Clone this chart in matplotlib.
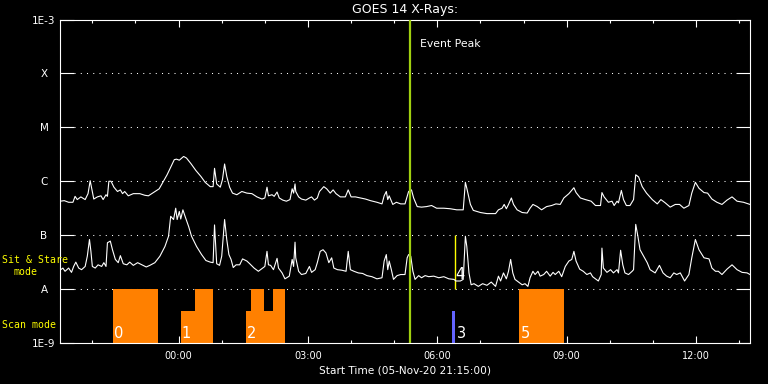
import numpy as np
import matplotlib
matplotlib.use("Agg")
import matplotlib.pyplot as plt
from matplotlib.ticker import FixedLocator, NullLocator

# GOES 14 X-ray flux, minutes after start (21:15) and log10 flux (W/m^2)
# long channel (upper curve)
long_min = [0, 6, 12, 18, 21, 24, 29, 35, 39, 42,
            45, 47, 52, 57, 60, 64, 66, 68, 71, 75,
            80, 84, 87, 90, 95, 102, 111, 118, 123, 130,
            138, 144, 149, 154, 159, 162, 166, 172, 176, 182,
            189, 196, 202, 209, 213, 215, 218, 223, 226, 229,
            232, 236, 240, 246, 253, 260, 267, 274, 281, 285,
            288, 290, 295, 298, 302, 305, 310, 315, 320, 323,
            325, 327, 328, 332, 336, 342, 347, 350, 354, 358,
            361, 367, 371, 376, 380, 384, 390, 397, 401, 405,
            411, 418, 425, 432, 441, 448, 451, 454, 456, 458,
            463, 468, 474, 480, 485, 489, 492, 497, 503, 510,
            517, 524, 534, 543, 552, 561, 564, 566, 571, 575,
            585, 594, 606, 610, 615, 618, 621, 624, 628, 631,
            636, 643, 650, 654, 658, 664, 670, 677, 684, 690,
            696, 701, 708, 715, 718, 724, 731, 739, 745, 752,
            754, 757, 763, 768, 771, 775, 777, 781, 784, 788,
            793, 798, 801, 805, 810, 816, 824, 831, 836, 842,
            849, 856, 862, 868, 875, 879, 884, 889, 896, 901,
            907, 914, 921, 928, 935, 942, 951, 960]
long_log = [-6.37, -6.36, -6.39, -6.39, -6.28, -6.34, -6.29, -6.34, -6.23, -5.99,
            -6.19, -6.33, -6.29, -6.27, -6.34, -6.25, -6.28, -6.00, -6.00, -6.11,
            -6.19, -6.16, -6.23, -6.19, -6.27, -6.23, -6.23, -6.26, -6.27, -6.21,
            -6.14, -6.00, -5.88, -5.74, -5.60, -5.59, -5.61, -5.54, -5.57, -5.67,
            -5.80, -5.91, -6.02, -6.10, -6.10, -5.76, -6.05, -6.11, -5.97, -5.68,
            -5.91, -6.11, -6.22, -6.25, -6.19, -6.22, -6.23, -6.29, -6.33, -6.31,
            -6.11, -6.27, -6.25, -6.28, -6.20, -6.31, -6.35, -6.37, -6.34, -6.14,
            -6.22, -6.05, -6.19, -6.29, -6.33, -6.35, -6.31, -6.29, -6.35, -6.31,
            -6.19, -6.10, -6.14, -6.22, -6.16, -6.23, -6.29, -6.29, -6.16, -6.29,
            -6.29, -6.31, -6.33, -6.36, -6.39, -6.42, -6.27, -6.19, -6.34, -6.27,
            -6.43, -6.39, -6.42, -6.42, -6.19, -6.16, -6.31, -6.47, -6.48, -6.47,
            -6.45, -6.50, -6.50, -6.51, -6.53, -6.53, -6.02, -6.13, -6.43, -6.54,
            -6.58, -6.60, -6.60, -6.53, -6.50, -6.43, -6.51, -6.43, -6.31, -6.43,
            -6.53, -6.58, -6.59, -6.50, -6.43, -6.47, -6.53, -6.47, -6.45, -6.42,
            -6.43, -6.31, -6.23, -6.12, -6.21, -6.31, -6.34, -6.37, -6.45, -6.45,
            -6.21, -6.29, -6.39, -6.37, -6.45, -6.37, -6.40, -6.17, -6.34, -6.45,
            -6.45, -6.34, -5.88, -5.92, -6.10, -6.22, -6.34, -6.42, -6.34, -6.40,
            -6.48, -6.43, -6.43, -6.50, -6.45, -6.22, -6.02, -6.13, -6.21, -6.22,
            -6.33, -6.39, -6.43, -6.35, -6.29, -6.37, -6.39, -6.43]

# short channel (lower curve)
short_min = [0, 4, 7, 12, 16, 19, 22, 26, 30, 35,
             38, 41, 43, 45, 49, 53, 58, 61, 64, 66,
             70, 73, 77, 81, 84, 88, 93, 97, 102, 108,
             114, 120, 125, 132, 139, 146, 151, 154, 158, 161,
             163, 166, 168, 171, 174, 179, 183, 190, 197, 203,
             209, 213, 215, 218, 222, 225, 229, 232, 235, 238,
             241, 245, 250, 254, 260, 264, 270, 276, 282, 285,
             288, 290, 293, 297, 302, 304, 309, 313, 319, 323,
             325, 327, 328, 332, 336, 342, 347, 350, 355, 358,
             362, 366, 370, 374, 378, 381, 386, 392, 398, 401,
             404, 409, 415, 421, 427, 434, 441, 448, 451, 454,
             456, 458, 461, 464, 469, 474, 480, 483, 485, 488,
             491, 494, 499, 503, 508, 513, 520, 527, 534, 541,
             548, 551, 557, 561, 564, 566, 569, 572, 576, 582,
             588, 594, 600, 606, 610, 613, 617, 621, 624, 627,
             630, 633, 638, 643, 647, 651, 654, 658, 661, 665,
             668, 673, 677, 682, 686, 689, 694, 698, 703, 708,
             712, 715, 718, 723, 728, 733, 738, 741, 746, 749,
             753, 754, 756, 761, 766, 770, 775, 777, 780, 783,
             786, 791, 796, 798, 801, 804, 807, 812, 817, 821,
             828, 834, 839, 844, 849, 854, 858, 863, 869, 875,
             879, 884, 889, 896, 903, 907, 912, 916, 921, 928,
             935, 942, 949, 956, 960]
short_log = [-7.65, -7.61, -7.67, -7.61, -7.69, -7.58, -7.50, -7.61, -7.64, -7.58,
             -7.39, -7.08, -7.30, -7.58, -7.61, -7.55, -7.58, -7.51, -7.58, -7.14,
             -7.11, -7.27, -7.45, -7.51, -7.38, -7.53, -7.55, -7.50, -7.56, -7.51,
             -7.55, -7.59, -7.56, -7.51, -7.39, -7.21, -7.02, -6.65, -6.71, -6.50,
             -6.71, -6.56, -6.70, -6.53, -6.65, -6.84, -7.02, -7.21, -7.36, -7.47,
             -7.50, -7.51, -6.81, -7.53, -7.56, -7.39, -6.71, -7.08, -7.36, -7.45,
             -7.60, -7.55, -7.55, -7.44, -7.48, -7.53, -7.61, -7.67, -7.61, -7.58,
             -7.30, -7.55, -7.56, -7.64, -7.43, -7.61, -7.70, -7.81, -7.76, -7.45,
             -7.58, -7.13, -7.42, -7.67, -7.73, -7.71, -7.58, -7.69, -7.64, -7.51,
             -7.30, -7.27, -7.33, -7.51, -7.42, -7.61, -7.64, -7.65, -7.67, -7.30,
             -7.64, -7.67, -7.70, -7.71, -7.75, -7.77, -7.81, -7.79, -7.48, -7.36,
             -7.64, -7.48, -7.64, -7.82, -7.75, -7.73, -7.73, -7.42, -7.36, -7.39,
             -7.67, -7.82, -7.75, -7.79, -7.75, -7.77, -7.76, -7.79, -7.77, -7.81,
             -7.82, -7.85, -7.85, -7.82, -7.02, -7.21, -7.70, -7.92, -7.90, -7.95,
             -7.90, -7.93, -7.87, -7.95, -7.76, -7.85, -7.70, -7.81, -7.67, -7.45,
             -7.70, -7.82, -7.87, -7.92, -7.90, -7.95, -7.79, -7.67, -7.73, -7.67,
             -7.76, -7.73, -7.67, -7.76, -7.69, -7.73, -7.67, -7.77, -7.58, -7.48,
             -7.45, -7.30, -7.48, -7.63, -7.67, -7.73, -7.70, -7.77, -7.82, -7.85,
             -7.73, -7.24, -7.61, -7.69, -7.64, -7.70, -7.64, -7.70, -7.28, -7.55,
             -7.70, -7.73, -7.67, -7.64, -6.80, -7.02, -7.27, -7.39, -7.51, -7.64,
             -7.70, -7.56, -7.70, -7.76, -7.79, -7.70, -7.73, -7.70, -7.85, -7.73,
             -7.42, -7.08, -7.27, -7.42, -7.44, -7.61, -7.67, -7.67, -7.73, -7.63,
             -7.55, -7.64, -7.69, -7.70, -7.73]

# scan mode blocks (minutes after start), top flux of each block
scan_start = [74, 168, 188, 259, 266, 284, 297, 639]
scan_end = [136, 188, 213, 266, 284, 297, 313, 701]
scan_top = [1e-8, 4e-9, 1e-8, 4e-9, 1e-8, 4e-9, 1e-8, 1e-8]
scan_label_min = [74, 168, 259, 639]
scan_label_txt = ["0", "1", "2", "5"]

# observation 3 (blue) and sit & stare 4 (yellow)
obs3_min = [546, 549.5]
obs3_top = 4e-9
obs4_min = 549
event_peak_min = 487

decades = [1e-9, 1e-8, 1e-7, 1e-6, 1e-5, 1e-4, 1e-3]
decade_labels = ["1E-9", "A", "B", "C", "M", "X", "1E-3"]
hour_ticks = [0, 3, 6, 9, 12]
hour_labels = ["00:00", "03:00", "06:00", "09:00", "12:00"]

start_offset = -2.75  # 21:15 relative to 00:00, hours


def to_hours(m):
    return np.asarray(m, dtype=float) / 60.0 + start_offset


plt.rcParams['font.family'] = ['DejaVu Sans']

fig = plt.figure(figsize=(7.68, 3.84), dpi=100, facecolor='black')
ax = fig.add_axes([60 / 768, 41 / 384, 690 / 768, 323.5 / 384])
ax.set_facecolor('black')
ax.set_yscale('log')
ax.set_ylim(1e-9, 1e-3)
ax.set_xlim(start_offset, start_offset + 16)

# dotted class levels
ax.hlines(decades[1:-1], 14 / 690, 1 - 14 / 690, transform=ax.get_yaxis_transform(),
          colors='white', linewidth=0.75, linestyles=(0, (1, 5)), zorder=1)

# scan mode blocks
s0 = to_hours(scan_start)
s1 = to_hours(scan_end)
ax.bar(s0, np.array(scan_top) - 1e-9, width=s1 - s0, bottom=1e-9, align='edge',
       color='#ff8000', linewidth=0, zorder=2)
for m, t in zip(scan_label_min, scan_label_txt):
    ax.annotate(t, (to_hours(m), 1.26e-9), xytext=(0.8, 0), textcoords='offset points',
                color='white', fontsize=10.5, va='baseline', ha='left', zorder=5)

# observation 3
b0, b1 = to_hours(obs3_min)
ax.bar(b0, obs3_top - 1e-9, width=b1 - b0, bottom=1e-9, align='edge',
       color='#6464ff', linewidth=0, zorder=2)
ax.annotate("3", (b1, 1.26e-9), xytext=(1.5, 0), textcoords='offset points',
            color='white', fontsize=10.5, va='baseline', ha='left', zorder=5)

# sit & stare 4
x4 = to_hours(obs4_min)
ax.vlines(x4, 1e-8, 1e-7, colors='#ffff00', linewidth=1, zorder=3)
ax.annotate("4", (x4, 10 ** -7.82), xytext=(0.7, 0), textcoords='offset points',
            color='white', fontsize=10.5, va='baseline', ha='left', zorder=5)

# flux curves
ax.plot(to_hours(long_min), 10 ** np.array(long_log), color='white', linewidth=0.8, zorder=4)
ax.plot(to_hours(short_min), 10 ** np.array(short_log), color='white', linewidth=0.8, zorder=4)

# event peak
xp = to_hours(event_peak_min)
ax.axvline(xp, color='#a0d010', linewidth=1.6, zorder=6)
ax.annotate("Event Peak", (xp, 10 ** -3.51), xytext=(7.2, 0), textcoords='offset points',
            color='white', fontsize=7.8, va='baseline', ha='left')

# axes styling
for sp in ax.spines.values():
    sp.set_color('white')
    sp.set_linewidth(0.8)

ax.yaxis.set_major_locator(FixedLocator(decades))
ax.yaxis.set_minor_locator(NullLocator())
ax.set_yticklabels(decade_labels)
ax.tick_params(axis='y', which='major', direction='in', length=10, width=0.8,
               colors='white', left=True, right=True, labelsize=7.5, pad=11.5)
for lbl in ax.get_yticklabels():
    lbl.set_ha('center')

ax.set_xticks(hour_ticks)
ax.set_xticklabels(hour_labels)
ax.xaxis.set_minor_locator(FixedLocator(np.arange(-2, 14)))
ax.tick_params(axis='x', which='major', direction='in', length=5, width=0.8,
               colors='white', top=True, bottom=True, labelsize=7, pad=6)
ax.tick_params(axis='x', which='minor', direction='in', length=2.5, width=0.8,
               color='white', top=True, bottom=True)

ax.set_title("GOES 14 X-Rays:", color='white', fontsize=9, pad=5)
ax.set_xlabel("Start Time (05-Nov-20 21:15:00)", color='white', fontsize=7.6, labelpad=3)

# mode labels on the left
mono = ['DejaVu Sans Mono']
fig.text(2 / 768, 1 - 263 / 384, "Sit & Stare", color='#ffff00', fontsize=7.1,
         ha='left', va='baseline', family=mono)
fig.text(13 / 768, 1 - 275 / 384, "mode", color='#ffff00', fontsize=7.1,
         ha='left', va='baseline', family=mono)
fig.text(2 / 768, 1 - 328 / 384, "Scan mode", color='#ffff00', fontsize=7.1,
         ha='left', va='baseline', family=mono)

fig.savefig("out.png", dpi=100, facecolor='black')
